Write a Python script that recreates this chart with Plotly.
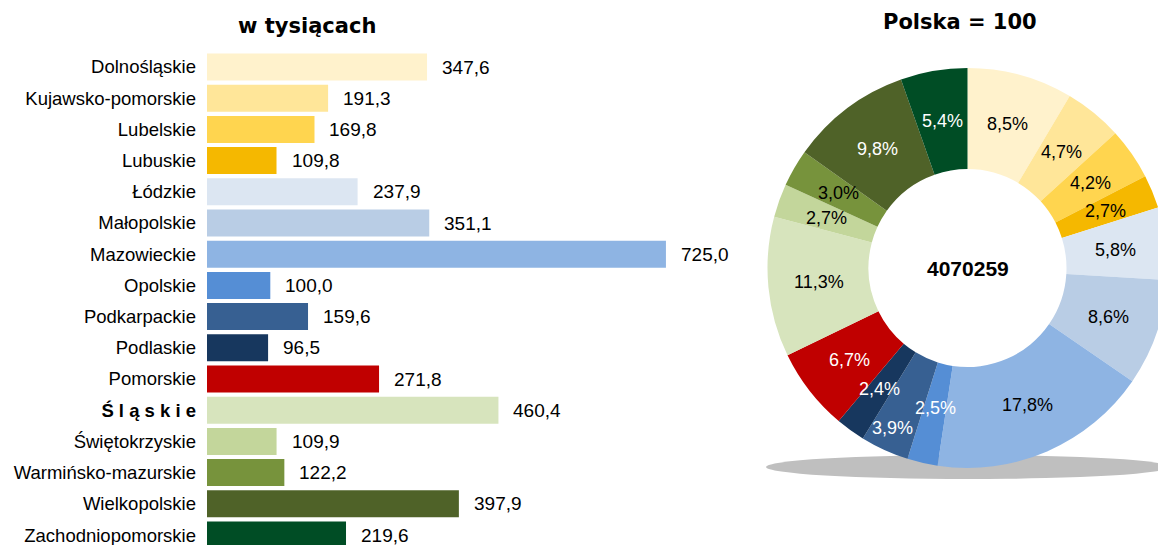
import math
import plotly.graph_objects as go

WF, H = 1168, 545   # figure is slightly wider than the window so the donut is cut at the right edge

regions = ["Dolnośląskie", "Kujawsko-pomorskie", "Lubelskie", "Lubuskie", "Łódzkie",
           "Małopolskie", "Mazowieckie", "Opolskie", "Podkarpackie", "Podlaskie",
           "Pomorskie", "Śląskie", "Świętokrzyskie", "Warmińsko-mazurskie",
           "Wielkopolskie", "Zachodniopomorskie"]
tick_labels = ["Dolnośląskie", "Kujawsko-pomorskie", "Lubelskie", "Lubuskie", "Łódzkie",
               "Małopolskie", "Mazowieckie", "Opolskie", "Podkarpackie", "Podlaskie",
               "Pomorskie", "<b>Ś l ą s k i e</b>", "Świętokrzyskie", "Warmińsko-mazurskie",
               "Wielkopolskie", "Zachodniopomorskie"]
values = [347.6, 191.3, 169.8, 109.8, 237.9, 351.1, 725.0, 100.0, 159.6, 96.5,
          271.8, 460.4, 109.9, 122.2, 397.9, 219.6]
colors = ["#FFF2CC", "#FFE699", "#FFD54F", "#F5B800", "#DCE6F2",
          "#B9CDE5", "#8EB4E3", "#558ED5", "#376092", "#17375E",
          "#C00000", "#D7E4BD", "#C3D69B", "#77933C", "#4F6228", "#004D25"]
pie_text_colors = ["#000000", "#000000", "#000000", "#000000", "#000000",
                   "#000000", "#000000", "#FFFFFF", "#FFFFFF", "#FFFFFF",
                   "#FFFFFF", "#000000", "#000000", "#000000", "#FFFFFF", "#FFFFFF"]
total_label = "4070259"
left_title = "w tysiącach"
right_title = "Polska = 100"

# small pixel nudges for crowded donut labels (screen px: right, down)
label_nudge = {"Podkarpackie": (-13, 24), "Opolskie": (2, -6)}

LBL = "Liberation Sans, Arial, sans-serif"
TTL = "DejaVu Sans, Verdana, sans-serif"

bar_labels = [f"{v:.1f}".replace(".", ",") for v in values]
total = sum(values)
pct_labels = [f"{v / total * 100:.1f}".replace(".", ",") + "%" for v in values]

HOLE = 0.495
fig = go.Figure()
fig.add_trace(go.Bar(
    y=regions, x=values, orientation="h", width=0.865,
    marker=dict(color=colors, line=dict(width=0)),
    hoverinfo="skip", showlegend=False,
))

# donut domain (paper fractions)
px0, px1 = 767 / WF, 1.0
py0, py1 = (H - 468) / H, (H - 68) / H
fig.add_trace(go.Pie(
    values=values, labels=regions, sort=False, direction="clockwise", rotation=0,
    hole=HOLE, marker=dict(colors=colors, line=dict(width=0)),
    textinfo="none", domain=dict(x=[px0, px1], y=[py0, py1]),
    showlegend=False, hoverinfo="skip",
))

annotations = []
for r, v, t in zip(regions, values, bar_labels):
    annotations.append(dict(x=v, y=r, xref="x", yref="y", text=t, showarrow=False,
                            xanchor="left", yanchor="middle", xshift=13,
                            font=dict(family=LBL, size=19, color="#000000")))

# percentage labels at the middle of each ring segment
cx = (px0 + px1) / 2 * WF
cy = (py0 + py1) / 2 * H
rad = min((px1 - px0) * WF, (py1 - py0) * H) / 2
rmid = rad * (1 + HOLE) / 2
cum = 0.0
for r, v, t, c in zip(regions, values, pct_labels, pie_text_colors):
    ang = 2 * math.pi * (cum + v / 2) / total
    cum += v
    lx = cx + rmid * math.sin(ang)
    ly = cy + rmid * math.cos(ang)
    dx, dy = label_nudge.get(r, (0, 0))
    annotations.append(dict(x=lx / WF, y=ly / H, xref="paper", yref="paper", text=t,
                            showarrow=False, xanchor="center", yanchor="middle",
                            xshift=dx, yshift=-dy,
                            font=dict(family=LBL, size=18, color=c)))

annotations.append(dict(x=307 / WF, y=1 - 26 / H, xref="paper", yref="paper",
                        text=f"<b>{left_title}</b>", showarrow=False,
                        xanchor="center", yanchor="middle",
                        font=dict(family=TTL, size=21, color="#000000")))
annotations.append(dict(x=960 / WF, y=1 - 22 / H, xref="paper", yref="paper",
                        text=f"<b>{right_title}</b>", showarrow=False,
                        xanchor="center", yanchor="middle",
                        font=dict(family=TTL, size=21, color="#000000")))
annotations.append(dict(x=cx / WF, y=cy / H, xref="paper", yref="paper",
                        text=f"<b>{total_label}</b>", showarrow=False,
                        xanchor="center", yanchor="middle",
                        font=dict(family=LBL, size=21, color="#000000")))

fig.update_layout(
    width=WF, height=H,
    margin=dict(l=0, r=0, t=0, b=0),
    paper_bgcolor="white", plot_bgcolor="white",
    annotations=annotations,
    shapes=[dict(type="circle", xref="paper", yref="paper", layer="below",
                 x0=766 / WF, x1=1170 / WF, y0=(H - 479) / H, y1=(H - 455) / H,
                 fillcolor="#BFBFBF", line=dict(width=0))],
    xaxis=dict(domain=[207 / WF, 740 / WF], range=[0, 842], showgrid=False,
               zeroline=False, showticklabels=False, showline=False, fixedrange=True),
    yaxis=dict(domain=[0, 1 - 50 / H], type="category", categoryarray=regions,
               range=[15.32, -0.545], tickvals=regions, ticktext=tick_labels,
               showgrid=False, zeroline=False, showline=False, ticks="",
               ticklabelstandoff=10, automargin=False,
               tickfont=dict(family=LBL, size=18.5, color="#000000")),
)

fig.write_html("out.html",
               config={"displayModeBar": False},
               post_script="document.body.style.margin='0';document.body.style.overflow='hidden';")
